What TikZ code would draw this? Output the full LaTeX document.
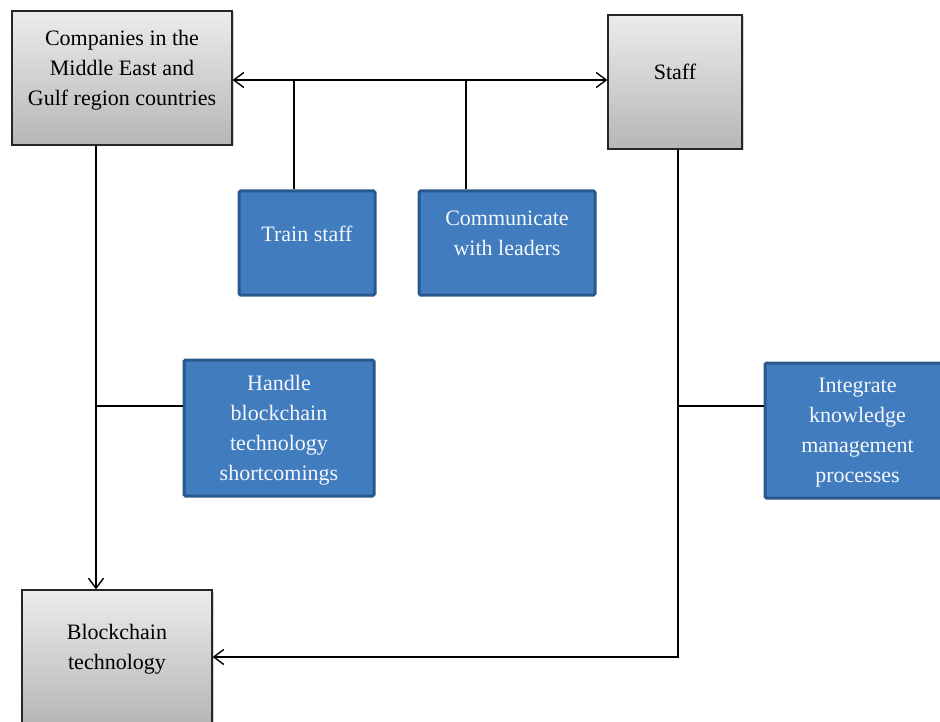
\documentclass[tikz,border=0pt]{standalone}
\usepackage{fontspec}
\setmainfont{Liberation Serif}
\usetikzlibrary{arrows.meta,shadows}
\definecolor{boxblue}{RGB}{65,124,190}
\definecolor{edgeblue}{RGB}{40,88,140}
\definecolor{lightgrey}{RGB}{236,236,236}
\definecolor{darkgrey}{RGB}{182,182,182}
\begin{document}
\begin{tikzpicture}[x=1pt,y=-1pt,
  every node/.style={font=\fontsize{22}{30}\selectfont,align=center,inner sep=0pt},
  greybox/.style={draw=black!85,line width=1.3pt,top color=lightgrey,bottom color=darkgrey,
    drop shadow={shadow xshift=1.5pt,shadow yshift=-1.5pt,opacity=0.35}},
  bluebox/.style={draw=edgeblue,line width=3pt,fill=boxblue,rounded corners=1.5pt,
    text=white!94!boxblue},
  link/.style={line width=1.4pt},
  tip/.style={line width=1.4pt,-{Straight Barb[length=10pt,width=15pt]}},
  twotip/.style={line width=1.4pt,
    {Straight Barb[length=10pt,width=15pt]}-{Straight Barb[length=10pt,width=15pt]}}]
  \useasboundingbox (0,0) rectangle (940,722);
  \clip (0,0) rectangle (940,722);

  % Grey boxes
  \node[greybox,minimum width=220,minimum height=134,text depth=20pt] (comp) at (122,78)
    {Companies in the\\Middle East and\\Gulf region countries};
  \node[greybox,minimum width=134,minimum height=134,text depth=20pt] (staff) at (675,82)
    {Staff};
  \node[greybox,minimum width=190,minimum height=134,text depth=20pt] (block) at (117,657)
    {Blockchain\\technology};

  % Blue boxes
  \node[bluebox,minimum width=136,minimum height=104,text depth=18pt] (train) at (307,243)
    {Train staff};
  \node[bluebox,minimum width=176,minimum height=104,text depth=20pt] (comm) at (507,243)
    {Communicate\\with leaders};
  \node[bluebox,minimum width=190,minimum height=136,text depth=0pt] (handle) at (279,428)
    {Handle\\blockchain\\technology\\shortcomings};
  \node[bluebox,minimum width=185,minimum height=135,text depth=0pt] (integ) at (857.5,430.5)
    {Integrate\\knowledge\\management\\processes};

  % Top bar between companies and staff
  \coordinate (bus) at (0,80);
  \draw[twotip] (comp.east |- bus) -- (staff.west |- bus);
  \coordinate (tdrop) at ([xshift=-13pt]train.north);
  \coordinate (cdrop) at ([xshift=-41pt]comm.north);
  \draw[link] (tdrop) -- (tdrop |- bus);
  \draw[link] (cdrop) -- (cdrop |- bus);

  % Left branch
  \coordinate (ldrop) at ([xshift=-26pt]comp.south);
  \draw[tip] (ldrop) -- (ldrop |- block.north);
  \coordinate (hjoin) at ([yshift=22pt]handle.west);
  \draw[link] (hjoin) -- (hjoin -| ldrop);

  % Right branch
  \coordinate (sdrop) at ([xshift=3pt]staff.south);
  \draw[tip] (sdrop) |- (block.east);
  \coordinate (ijoin) at ([yshift=24.5pt]integ.west);
  \draw[link] (ijoin) -- (ijoin -| sdrop);
\end{tikzpicture}
\end{document}
